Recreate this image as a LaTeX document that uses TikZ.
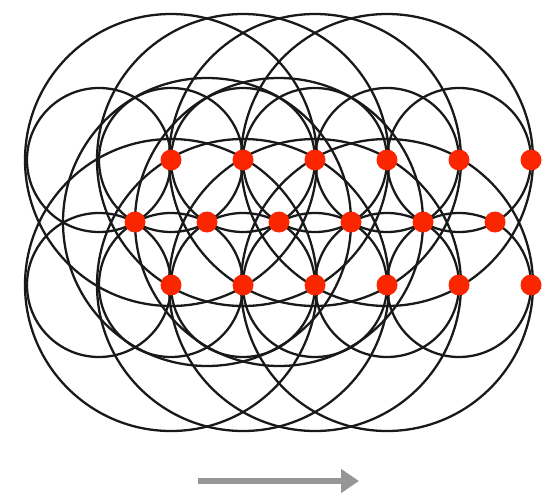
\documentclass[tikz,border=0pt]{standalone}
\usepackage{tikz}
\usetikzlibrary{arrows.meta,positioning}
\definecolor{red}{RGB}{250,38,0}
\definecolor{gray}{RGB}{150,150,150}

\begin{document}
\begin{tikzpicture}[x=0.02cm,y=-0.02cm,
  wave/.style={draw=black!90, line width=1.3pt},
  dot/.style={circle, fill=red, inner sep=0pt, minimum size=0.42cm}]
\useasboundingbox (0,0) rectangle (544,494);
% small and large wavefronts, upper and lower rows
\foreach \x in {99,171,243,315,387,459} {
  \draw[wave] (\x,160) circle (72);
  \draw[wave] (\x,285) circle (72);
}
\foreach \x in {171,243,315,387} {
  \draw[wave] (\x,160) circle (146);
  \draw[wave] (\x,285) circle (146);
}
% middle row
\foreach \x in {207,279} {
  \draw[wave] (\x,222) circle (144);
}
% lattice points
\foreach \x [count=\i] in {171,243,315,387,459,531} {
  \node[dot] (t\i) at (\x,160) {};
  \node[dot] (b\i) at (\x,285) {};
}
\foreach \x [count=\i] in {135,207,279,351,423,495} {
  \node[dot] (m\i) at (\x,222) {};
}
% direction of motion
\coordinate (a1) at (198,481);
\coordinate (a2) at (359,481);
\draw[-{Triangle[length=3.6mm, width=4.6mm]}, line width=3.3pt, gray] (a1)--(a2);
\end{tikzpicture}
\end{document}
